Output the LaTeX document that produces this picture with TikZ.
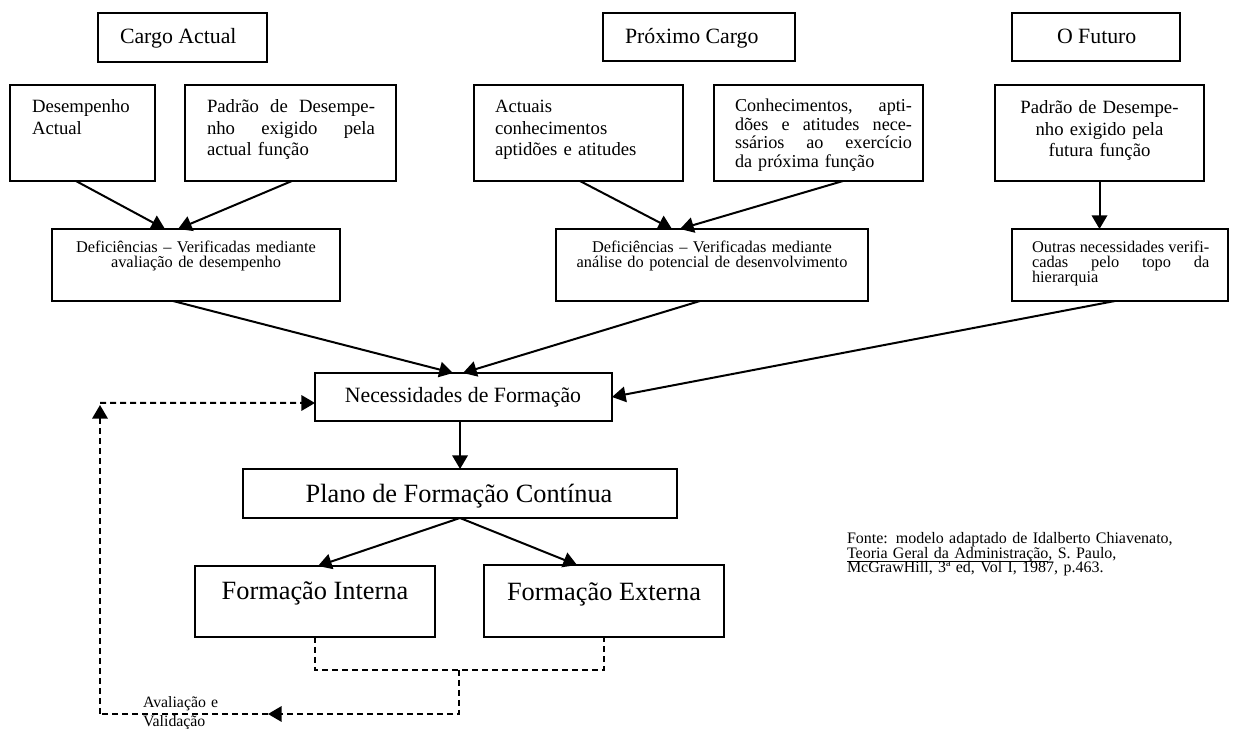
\documentclass[tikz,border=0pt]{standalone}
\usepackage{fontspec}
\setmainfont{Liberation Serif}
\usetikzlibrary{arrows.meta,fit,calc}
\newcommand\setfz[2]{\fontsize{#1}{#2}\selectfont\lineskiplimit=-100pt\relax}
\begin{document}
\begin{tikzpicture}[x=0.55pt,y=-0.55pt,
 box/.style={draw,line width=1.1pt,inner sep=0pt,outer sep=0pt},
 ft/.style={inner sep=0pt,outer sep=0pt},
 fa/.style={font=\setfz{12pt}{13pt}},
 fb/.style={font=\setfz{10.3pt}{11.8pt}},
 fc/.style={font=\setfz{10pt}{10.1pt}},
 fd/.style={font=\setfz{9pt}{8.25pt}},
 fe/.style={font=\setfz{14.5pt}{16pt}},
 ff/.style={font=\setfz{8.8pt}{7.9pt}},
 fg/.style={font=\setfz{8.7pt}{10.4pt}},
 arr/.style={line width=1.1pt,-{Triangle[length=7.5pt,width=8.5pt]}},
 dln/.style={line width=1.1pt,dash pattern=on 3.3pt off 2.2pt},
 darr/.style={dln,-{Triangle[length=7.5pt,width=8.5pt]}},
]
\useasboundingbox (0,0) rectangle (1234,729);

% boxes
\node[box,fit={(98,13)(267,62)}] (cargo) {};
\node[box,fit={(603,13)(795,61)}] (prox) {};
\node[box,fit={(1012,13)(1180,61)}] (futuro) {};
\node[box,fit={(10,85)(155,181)}] (desemp) {};
\node[box,fit={(185,85)(396,181)}] (padrao) {};
\node[box,fit={(474,85)(683,181)}] (actuais) {};
\node[box,fit={(714,85)(923,181)}] (conhec) {};
\node[box,fit={(995,85)(1204,181)}] (padfut) {};
\node[box,fit={(52,229)(340,301)}] (def1) {};
\node[box,fit={(556,229)(868,301)}] (def2) {};
\node[box,fit={(1012,229)(1228,301)}] (outras) {};
\node[box,fit={(315,373)(612,421)}] (neces) {};
\node[box,fit={(243,469)(677,518)}] (plano) {};
\node[box,fit={(195,566)(435,637)}] (interna) {};
\node[box,fit={(484,565)(724,637)}] (externa) {};

% texts
\node[ft,fa,anchor=base west] (cargoT) at (120,44) {Cargo Actual};
\node[ft,fa,anchor=base west] (proxT) at (625,44) {Próximo Cargo};
\node[ft,fa,anchor=base west] (futT) at (1057,44) {O Futuro};
\node[ft,fb,anchor=base west,text width=63pt,align=left] (desempT) at (32,113) {Desempenho\\Actual};
\node[ft,fb,anchor=base west,text width=92.4pt,align=left] (padraoT) at (207,113)
 {\makebox[\linewidth][s]{Padrão\hfill de\hfill Desempe-}\\\makebox[\linewidth][s]{nho\hfill exigido\hfill pela}\\actual função};
\node[ft,fb,anchor=base west,text width=99pt,align=left] (actuaisT) at (495,113) {Actuais\\conhecimentos\\aptidões e atitudes};
\node[ft,fc,anchor=base west,text width=97.35pt,align=left] (conhecT) at (735,112)
 {\makebox[\linewidth][s]{Conhecimentos,\hfill apti-}\\\makebox[\linewidth][s]{dões\hfill e\hfill atitudes\hfill nece-}\\\makebox[\linewidth][s]{ssários\hfill ao\hfill exercício}\\da próxima função};
\node[ft,fb,anchor=base,text width=104.5pt,align=center] (padfutT) at (1099.5,114) {Padrão de Desempe-\\nho exigido pela\\futura função};
\node[ft,fd,anchor=base,text width=165pt,align=center] (def1T) at (196,253) {Deficiências – Verificadas mediante\\avaliação de desempenho};
\node[ft,fd,anchor=base,text width=165pt,align=center] (def2T) at (712,253) {Deficiências – Verificadas mediante\\análise do potencial de desenvolvimento};
\node[ft,fd,anchor=base west,text width=97.5pt,align=left] (outrasT) at (1032,253)
 {\makebox[\linewidth][s]{Outras\hfill necessidades\hfill verifi-}\\\makebox[\linewidth][s]{cadas\hfill pelo\hfill topo\hfill da}\\hierarquia};
\node[ft,fa,anchor=base] (necesT) at (463,403) {Necessidades de Formação};
\node[ft,fe,anchor=base] (planoT) at (459,503) {Plano de Formação Contínua};
\node[ft,fe,anchor=base] (internaT) at (315,600) {Formação Interna};
\node[ft,fe,anchor=base] (externaT) at (604,601) {Formação Externa};
\node[ft,ff,anchor=base west,text width=200pt,align=left] (fonteT) at (847,544)
 {Fonte: modelo adaptado de Idalberto Chiavenato,\\\underline{\smash{Teoria Geral da Administração}}, S. Paulo,\\McGrawHill, 3ª ed, Vol I, 1987, p.463.};
\node[ft,fg,anchor=base west,text width=60pt,align=left] (avalT) at (143,708) {Avaliação e\\Validação};

% arrows
\draw[arr] ([xshift=-3.6pt]desemp.south) -- ([xshift=-17.05pt]def1.north);
\draw[arr] ([xshift=0.8pt]padrao.south) -- ([xshift=-9.9pt]def1.north);
\draw[arr] ([xshift=0.8pt]actuais.south) -- ([xshift=-22pt]def2.north);
\draw[arr] ([xshift=13.5pt]conhec.south) -- ([xshift=-17.6pt]def2.north);
\draw[arr] (padfut.south) -- (padfut.south |- outras.north);
\draw[arr] ([xshift=-12.65pt]def1.south) -- ([xshift=-5.8pt]neces.north);
\draw[arr] ([xshift=-6.6pt]def2.south) -- ([xshift=-0.3pt]neces.north);
\draw[arr] ([xshift=-2.75pt]outras.south) -- (neces.east);
\draw[arr] ([xshift=-1.9pt]neces.south) -- ([xshift=-1.9pt]neces.south |- plano.north);
\draw[arr] (plano.south) -- ([xshift=1.65pt]interna.north);
\draw[arr] (plano.south) -- ([xshift=-14.85pt]externa.north);

% dashed feedback
\coordinate (jn) at (459,670);
\coordinate (jb) at (459,714);
\coordinate (ja) at (268,714);
\coordinate (cl) at (100,714);
\coordinate (cu) at (100,405);
\coordinate (ct) at (100,403);
\draw[dln] (interna.south) -- (interna.south |- jn) -- (externa.south |- jn) -- (externa.south);
\draw[darr] (jn) -- (jb) -- (ja);
\draw[dln] (ja) -- (cl);
\draw[darr] (cl) -- (cu);
\draw[darr] (ct) -- ([yshift=-3.3pt]neces.west);
\end{tikzpicture}
\end{document}
